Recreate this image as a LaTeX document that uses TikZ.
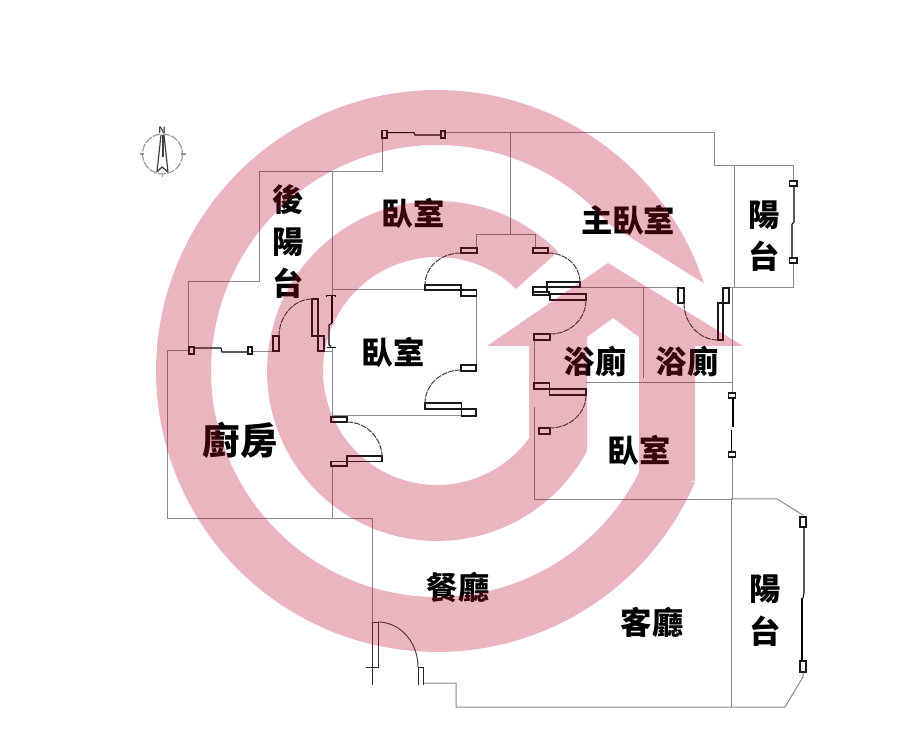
\documentclass[tikz,border=0pt]{standalone}
\usepackage{fontspec}
\newfontfamily\cjk{Noto Sans CJK TC}
\definecolor{wm}{rgb}{0.72,0,0.138}
\definecolor{wallc}{HTML}{8A8A8A}
\tikzset{
  wall/.style={draw=wallc,line width=0.75pt},
  box/.style={draw=black!90,line width=0.95pt},
  swing/.style={draw=black!75,line width=0.75pt,dash pattern=on 4.5pt off 0.8pt},
  pane/.style={draw=black,line width=0.8pt},
  thickpane/.style={draw=black,line width=1.4pt},
  label/.style={font=\cjk\bfseries\fontsize{23.5}{25}\selectfont,inner sep=0pt,text=black},
  biglabel/.style={font=\cjk\bfseries\fontsize{28}{30}\selectfont,inner sep=0pt,text=black},
}
\begin{document}
\begin{tikzpicture}[x=0.75pt,y=-0.75pt]
\useasboundingbox (0,0) rectangle (900,741);
\fill[white] (0,0) rectangle (900,741);

% outer walls
\draw[wall] (445,133) -- (714,133) -- (714,166) -- (793,166) -- (793,181);
\draw[wall] (793,263) -- (793,288) -- (733,288);
\draw[wall] (734,166) -- (734,288);
\draw[wall] (510,133) -- (510,235);
\draw[wall] (476,248) -- (476,235) -- (535,235) -- (535,248);
\draw[wall] (382,138) -- (382,172) -- (259,172) -- (259,282) -- (188,282) -- (188,348);
\draw[wall] (332,172) -- (332,296);
\draw[wall] (332,290) -- (424,290);
\draw[wall] (332,347) -- (332,417);
\draw[wall] (252,351.5) -- (273,351.5);
\draw[wall] (324,351.5) -- (332,351.5);
\draw[wall] (189,351) -- (167,351) -- (167,519) -- (372,519) -- (372,622);
\draw[wall] (332,466) -- (332,519);
\draw[wall] (332,416) -- (476,416);
\draw[wall] (476,296) -- (476,365);
\draw[wall] (534,340) -- (534,383);
\draw[wall] (534,407) -- (534,500) -- (731,500);
\draw[wall] (580,288) -- (678,288);
\draw[wall] (729,288) -- (733,288);
\draw[wall] (643,288) -- (643,378);
\draw[wall] (586,383) -- (732,383);
\draw[wall] (732,288) -- (732,393);
\draw[wall] (732,457) -- (732,500) -- (731,500) -- (731,707);
\draw[wall] (423,683) -- (456,683) -- (456,707) -- (785,707) -- (803,677) -- (803,672);
\draw[wall] (731,499) -- (777,499) -- (803,515) -- (803,517);

% doors and boxes
\draw[box] (461,248) rectangle (477,253);
\draw[box] (533,248) rectangle (548,253);
\draw[box] (425,285) rectangle (461,290);
\draw[box] (461,290) rectangle (476.5,296);
\draw[box] (533,287) rectangle (547,292);
\draw[box] (547,282) rectangle (580,287);
\draw[box] (533,292) rectangle (549,295);
\draw[box] (550,294) rectangle (586,300);
\draw[box] (534,334) rectangle (550,340);
\draw[box] (461,365) rectangle (476,371);
\draw[box] (425,403) rectangle (461.5,409);
\draw[box] (461.5,409) rectangle (476,416);
\draw[box] (331,417) rectangle (347,422);
\draw[box] (347,456) rectangle (382,461.5);
\draw[box] (331,461.5) rectangle (347,466);
\draw[box] (534,383) rectangle (549.5,389);
\draw[box] (549.5,389) rectangle (586,395);
\draw[box] (539,428) rectangle (550,434);
\draw[box] (678,288) rectangle (684,303);
\draw[box] (718,303) rectangle (723,340);
\draw[box] (723,288) rectangle (729,303);
\draw[box] (273,336) rectangle (279,351);
\draw[box] (312,299) rectangle (318,336);
\draw[box] (318,336) rectangle (324,351);

\draw[swing] (461,253) .. controls (441,253) and (425,267) .. (425,285);
\draw[swing] (548,253) .. controls (566,253) and (580,266) .. (580,282);
\draw[swing] (586,300) .. controls (586,319) and (570,334) .. (550,334);
\draw[swing] (461,370) .. controls (441,370) and (425,385) .. (425,403);
\draw[swing] (347,422) .. controls (366,422) and (382,438) .. (382,457);
\draw[swing] (586,395) .. controls (586,413) and (570,428) .. (550,428);
\draw[swing] (684,303) .. controls (684,323) and (699,340) .. (718,340);
\draw[swing] (312,299) .. controls (294,299) and (279,316) .. (279,336);

% entrance
\draw[wall,draw=black!80] (372,622) rectangle (378,667);
\draw[wall,draw=black!85] (366,667) -- (378,667);
\draw[wall,draw=black!85] (372,667) -- (372,685);
\draw[wall,draw=black!70,line width=0.75pt] (378,622) .. controls (400,622) and (418,642) .. (418,667);
\draw[wall,draw=black!85] (418,685) -- (418,667) -- (423,667) -- (423,685);

% windows
\draw[box,line width=0.8pt] (382,130.5) rectangle (387,138);
\draw[pane] (387,132.7) -- (414,132.7) -- (415,135) -- (440,135);
\draw[box,line width=0.8pt] (441,131) rectangle (445,138);
\draw[box,line width=0.8pt] (189,347) rectangle (194,354);
\draw[pane] (194,348) -- (221,348) -- (222,352) -- (248,352);
\draw[box,line width=0.8pt] (248,347) rectangle (252,354);
\draw[box,line width=0.8pt] (789.5,181) rectangle (797,186);
\draw[pane] (794,186) -- (794,222) -- (792,224) -- (792,258);
\draw[box,line width=0.8pt] (789.5,258) rectangle (797,263);
\draw[box,line width=0.8pt] (728.5,393) rectangle (735.5,398);
\draw[pane] (733,398) -- (733,427);
\draw[pane] (731.5,430) -- (731.5,452);
\draw[box,line width=0.8pt] (728.5,452) rectangle (735.5,457);
\draw[box,line width=0.8pt] (800,517) rectangle (806,527);
\draw[pane] (804,527) -- (804,593) -- (803,598);
\draw[thickpane] (802,598) -- (802,661);
\draw[box,line width=0.8pt] (800,661) rectangle (806,672);
% back window
\draw[pane] (326.5,297) -- (326.5,295.5) -- (335.5,295.5) -- (335.5,297);
\draw[thickpane] (332,296) -- (332,323);
\draw[pane] (332,323) -- (329,325) -- (329,345) -- (331,347);
\draw[pane] (326.5,347.5) -- (335.5,347.5);

% north sign
\draw[draw=black!40,line width=0.9pt,dash pattern=on 6pt off 1pt] (162.5,154) circle[radius=20];
\draw[draw=black!40,line width=0.9pt] (140,154) -- (144,154) (181,154) -- (186,154) (162.5,174) -- (162.5,177);
\draw[draw=black!75,line width=0.9pt] (161,135) -- (157,172) (164,135) -- (168,172);
\draw[draw=black!75,line width=1.0pt] (157,172) -- (162,167) -- (168,172);
\draw[draw=black!75,line width=1.5pt] (163,135) -- (163,157);
\node[inner sep=0pt,font=\fontsize{7}{7}\selectfont\sffamily\bfseries,text=black!80] (north) at (162,130) {N};

% labels
\node[label] (hou1) at (288,200) {後};
\node[label] (hou2) at (288,242) {陽};
\node[label] (hou3) at (288,283) {台};
\node[label] (bed1) at (413,213) {臥室};
\node[label] (master) at (628,220) {主臥室};
\node[label] (bal1a) at (764,215) {陽};
\node[label] (bal1b) at (764,256) {台};
\node[label] (bed2) at (393,352) {臥室};
\node[label] (bath1) at (595,361) {浴廁};
\node[label] (bath2) at (687,361) {浴廁};
\node[label] (bed3) at (639,450) {臥室};
\node[biglabel] (kitchen) at (240,440) {廚房};
\node[label] (dining) at (458,587) {餐廳};
\node[label] (living) at (652,622) {客廳};
\node[label] (bal2a) at (765,589) {陽};
\node[label] (bal2b) at (765,631) {台};

% watermark
\begin{scope}[transparency group,opacity=0.29]
\fill[wm] plot[domain=-18.2:-336.7,samples=160] ({437+281*cos(\x)},{371+281*sin(\x)})
  -- plot[domain=-333.4:-40.75,samples=160] ({437+226*cos(\x)},{371+226*sin(\x)}) -- cycle;
\fill[wm] plot[domain=28:315.4,samples=160] ({437+170*cos(\x)},{371+170*sin(\x)})
  -- (517,288)
  -- plot[domain=314:30,samples=120] ({437+114*cos(\x)},{371+114*sin(\x)}) -- cycle;
\fill[wm] (487,346) -- (608,263) -- (743,346) -- (695,346) -- (695,481) -- (670,481) -- (639,476) -- (639,337)
  -- (613,318) -- (587,337) -- (587,450) -- (560,450) -- (529,443) -- (529,346) -- cycle;
\end{scope}
\end{tikzpicture}
\end{document}
